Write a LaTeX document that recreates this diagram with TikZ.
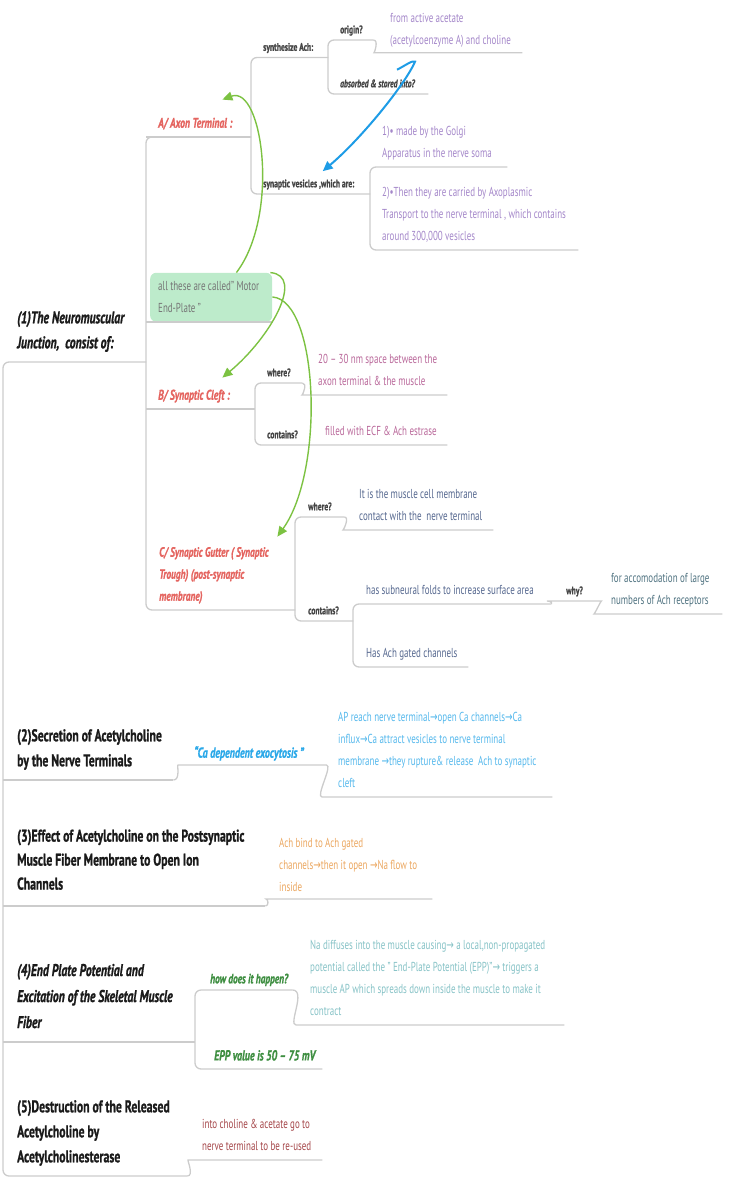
\documentclass[tikz,border=0pt]{standalone}
\usepackage{fontspec}
\setmainfont{PT Sans}[FakeStretch=0.69, BoldFont=* Bold, ItalicFont=* Italic, BoldItalicFont=* Bold Italic,
  BoldFeatures={FakeBold=1}, BoldItalicFeatures={FakeBold=1}]
\newfontfamily\symfont{DejaVu Sans}[FakeStretch=0.69]
\usetikzlibrary{arrows.meta}

\definecolor{linegray}{HTML}{CCCCCC}
\definecolor{topblack}{HTML}{1A1A1A}
\definecolor{subred}{HTML}{E4645F}
\definecolor{taggray}{HTML}{454545}
\definecolor{lavender}{HTML}{A487C9}
\definecolor{mauve}{HTML}{B9689A}
\definecolor{slate}{HTML}{56688F}
\definecolor{slateteal}{HTML}{4F7280}
\definecolor{skyblue}{HTML}{2AA8E8}
\definecolor{skyleaf}{HTML}{55B8EC}
\definecolor{amber}{HTML}{EBA760}
\definecolor{leafgreen}{HTML}{3E8E41}
\definecolor{paleteal}{HTML}{86C2C6}
\definecolor{brick}{HTML}{A5474A}
\definecolor{mint}{HTML}{BDEBCB}
\definecolor{mintext}{HTML}{767676}
\definecolor{arrowgreen}{HTML}{7CC242}
\definecolor{arrowblue}{HTML}{1E9CE6}

\newcommand\rarr{{\symfont →}}
% text block sitting on an underline of given length, with a left inset
\newcommand\ulbox[3]{\makebox[#1pt][l]{\hspace*{#2pt}\begin{tabular}[b]{@{}l@{}}#3\end{tabular}}}

\begin{document}
\begin{tikzpicture}[x=1pt,y=-1pt,
  conn/.style={draw=linegray, line width=1.3pt, rounded corners=6pt},
  mmbase/.style={anchor=south west, inner xsep=0pt},
  mmtop/.style={mmbase, inner ysep=6pt, text=topblack, font=\fontsize{17}{25}\selectfont\bfseries},
  mmsub/.style={mmbase, inner ysep=2.5pt, text=subred, font=\fontsize{14}{22}\selectfont\bfseries\itshape},
  mmtag/.style={mmbase, inner ysep=1.7pt, text=taggray, font=\fontsize{11}{16}\selectfont\bfseries},
  mmleaf/.style={mmbase, inner ysep=3pt, font=\fontsize{13}{22}\selectfont},
  garrow/.style={draw=arrowgreen, line width=1.4pt, -{Triangle[length=10pt,width=9pt]}},
  barrow/.style={draw=arrowblue, line width=2pt, -{Triangle[length=10pt,width=9pt]}}
]
\useasboundingbox (0,0) rectangle (731,1182);

% ---------- (1) Neuromuscular junction ----------
\node[mmtop, font=\fontsize{17}{25}\selectfont\bfseries\itshape] (n1) at (3,362)
  {\ulbox{143}{14}{(1)The Neuromuscular\\Junction,\ \ consist of:}};

\node[mmsub] (A) at (146,137) {\ulbox{105}{12}{A/ Axon Terminal :}};
\node[mmtag] (synth) at (251,57.5) {\ulbox{77}{12}{synthesize Ach:}};
\node[mmtag] (origin) at (328,40) {\ulbox{45}{12}{origin?}};
\node[mmtag, font=\fontsize{11}{16}\selectfont\bfseries\itshape] (absorbed) at (328,94)
  {\ulbox{100}{12}{absorbed \& stored into?}};
\node[mmleaf, inner ysep=1pt, text=lavender] (leafO) at (380,52.7)
  {\ulbox{142}{10}{from active acetate\\(acetylcoenzyme A) and choline}};
\node[mmtag] (vesic) at (251,194) {\ulbox{119}{12}{synaptic vesicles ,which are:}};
\node[mmleaf, text=lavender] (leaf1) at (370,167)
  {\ulbox{137}{12}{1)• made by the Golgi\\Apparatus in the nerve soma}};
\node[mmleaf, text=lavender] (leaf2) at (370,250)
  {\ulbox{208}{12}{2)•Then they are carried by Axoplasmic\\Transport to the nerve terminal , which contains\\around 300,000 vesicles}};

\node[mmbase, inner ysep=0pt, minimum height=49pt, fill=mint, rounded corners=6pt,
      text=mintext, font=\fontsize{13}{22}\selectfont] (GB) at (150,322)
  {\ulbox{122}{8}{all these are called” Motor\\End-Plate ”}};

\node[mmsub] (B) at (146,409) {\ulbox{109}{12}{B/ Synaptic Cleft :}};
\node[mmtag] (Bwhere) at (255,383) {\ulbox{47}{12}{where?}};
\node[mmleaf, text=mauve] (Bleaf1) at (308,395)
  {\ulbox{139}{10}{20 – 30 nm space between the\\axon terminal \& the muscle}};
\node[mmtag] (Bcont) at (255,445) {\ulbox{55}{12}{contains?}};
\node[mmleaf, text=mauve] (Bleaf2) at (310,445)
  {\ulbox{137}{15}{filled with ECF \& Ach estrase}};

\node[mmsub, font=\fontsize{13.5}{22}\selectfont\bfseries\itshape] (C) at (146,610)
  {\ulbox{149}{13}{C/ Synaptic Gutter ( Synaptic\\Trough) (post-synaptic\\membrane)}};
\node[mmtag] (Cwhere) at (295,517) {\ulbox{49}{13}{where?}};
\node[mmleaf, text=slate] (Cleaf1) at (349,530)
  {\ulbox{144}{10}{It is the muscle cell membrane\\contact with the\ \ nerve terminal}};
\node[mmtag] (Ccont) at (295,621) {\ulbox{58}{13}{contains?}};
\node[mmleaf, text=slate] (Cfold) at (353,604)
  {\ulbox{198}{13}{has subneural folds to increase surface area}};
\node[mmtag] (Cwhy) at (553,601) {\ulbox{42}{13}{why?}};
\node[mmleaf, text=slateteal] (Cleaf2) at (600,614)
  {\ulbox{122}{11}{for accomodation of large\\numbers of Ach receptors}};
\node[mmleaf, text=slate] (Cgated) at (353,667)
  {\ulbox{115}{13}{Has Ach gated channels}};

% ---------- (2) ----------
\node[mmtop] (n2) at (3,780) {\ulbox{170}{14}{(2)Secretion of Acetylcholine\\by the Nerve Terminals}};
\node[mmtag, text=skyblue, font=\fontsize{14.5}{18}\selectfont\bfseries\itshape] (s2) at (184,765)
  {\ulbox{136}{10}{“Ca dependent exocytosis ”}};
\node[mmleaf, text=skyleaf] (s2leaf) at (328,797)
  {\ulbox{224}{10}{AP reach nerve terminal\rarr open Ca channels\rarr Ca\\influx\rarr Ca attract vesicles to nerve terminal\\membrane \rarr they rupture\& release\ \ Ach to synaptic\\cleft}};

% ---------- (3) ----------
\node[mmtop, inner ysep=9pt, font=\fontsize{17}{24}\selectfont\bfseries] (n3) at (3,906)
  {\ulbox{262}{14}{(3)Effect of Acetylcholine on the Postsynaptic\\Muscle Fiber Membrane to Open Ion\\Channels}};
\node[mmleaf, inner ysep=1pt, text=amber] (s3leaf) at (272,899)
  {\ulbox{160}{7}{Ach bind to Ach gated\\channels\rarr then it open \rarr Na flow to\\inside}};

% ---------- (4) ----------
\node[mmtop, font=\fontsize{17}{26}\selectfont\bfseries\itshape] (n4) at (3,1042)
  {\ulbox{192}{14}{(4)End Plate Potential and\\Excitation of the Skeletal Muscle\\Fiber}};
\node[mmtag, text=leafgreen, font=\fontsize{13.5}{16}\selectfont\bfseries\itshape] (s4how) at (195,990)
  {\ulbox{97}{15}{how does it happen?}};
\node[mmleaf, text=paleteal] (s4leaf) at (302,1025)
  {\ulbox{262}{8}{Na diffuses into the muscle causing\rarr{} a local,non-propagated\\potential called the ” End-Plate Potential (EPP)”\rarr{} triggers a\\muscle AP which spreads down inside the muscle to make it\\contract}};
\node[mmtag, inner ysep=3pt, text=leafgreen, font=\fontsize{14.5}{18}\selectfont\bfseries\itshape] (s4epp) at (195,1069)
  {\ulbox{127}{19}{EPP value is 50 – 75 mV}};

% ---------- (5) ----------
\node[mmtop] (n5) at (3,1176)
  {\ulbox{184}{14}{(5)Destruction of the Released\\Acetylcholine by\\Acetylcholinesterase}};
\node[mmleaf, text=brick] (s5leaf) at (194,1160)
  {\ulbox{128}{8}{into choline \& acetate go to\\nerve terminal to be re-used}};

% ---------- branch lines ----------
\draw[conn] (n1.south east) -- (n1.south west) -- (n5.south west) -- (n5.south east);
\draw[conn] (n2.south west) -- (n2.south east);
\draw[conn] (n3.south west) -- (n3.south east);
\draw[conn] (n4.south west) -- (n4.south east);

\draw[conn] (A.south east) -- (A.south west) -- (C.south west) -- (C.south east);
\draw[conn] (GB.south west -| A.south west) -- (GB.south east);
\draw[conn] (B.south west) -- (B.south east);

\draw[conn] (A.south west) -- (A.south east);
\draw[conn] (synth.south east) -- (synth.south west) -- (vesic.south west) -- (vesic.south east);
\draw[conn] (origin.south east) -- (origin.south west) -- (absorbed.south west) -- (absorbed.south east);
\draw[conn] (origin.south east) to[out=0,in=180] (leafO.south west) -- (leafO.south east);
\draw[conn] (leaf1.south east) -- (leaf1.south west) -- (leaf2.south west) -- (leaf2.south east);

\draw[conn] (Bwhere.south east) -- (Bwhere.south west) -- (Bcont.south west) -- (Bcont.south east) -- (Bleaf2.south east);
\draw[conn] (Bwhere.south east) to[out=0,in=180] (Bleaf1.south west) -- (Bleaf1.south east);

\draw[conn] (Cwhere.south east) -- (Cwhere.south west) -- (Ccont.south west) -- (Ccont.south east);
\draw[conn] (Cwhere.south east) to[out=0,in=180] (Cleaf1.south west) -- (Cleaf1.south east);
\draw[conn] (Cfold.south east) -- (Cfold.south west) -- (Cgated.south west) -- (Cgated.south east);
\draw[conn] (Cfold.south east) to[out=0,in=180] (Cwhy.south west) -- (Cwhy.south east)
  to[out=0,in=180] (Cleaf2.south west) -- (Cleaf2.south east);

\draw[conn] (n2.south east) to[out=0,in=180] (s2.south west) -- (s2.south east)
  to[out=0,in=180] (s2leaf.south west) -- (s2leaf.south east);
\draw[conn] (n3.south east) to[out=0,in=180] (s3leaf.south west) -- (s3leaf.south east);
\draw[conn] (s4how.south east) -- (s4how.south west) -- (s4epp.south west) -- (s4epp.south east);
\draw[conn] (s4how.south east) to[out=0,in=180] (s4leaf.south west) -- (s4leaf.south east);
\draw[conn] (n5.south east) to[out=0,in=180] (s5leaf.south west) -- (s5leaf.south east);

% ---------- cross links ----------
\draw[garrow] ([xshift=-36pt]GB.north east) .. controls +(44,-58) and +(40,-15) .. ([shift={(-29,-10)}]A.north east);
\draw[garrow] ([shift={(-2,0)}]GB.north east) .. controls +(35,3) and +(48,-40) .. ([shift={(-33,-4)}]B.north east);
\draw[garrow] ([shift={(0,-25)}]GB.south east) .. controls +(46,3) and +(48,-67) .. ([shift={(-18,-2)}]C.north east);
\draw[barrow] ([shift={(17,17)}]leafO.south west) .. controls +(8,-4) and +(-2,-2) .. ([shift={(35,9)}]leafO.south west)
  .. controls +(-10,23) and +(38,-32) .. ([shift={(12,-3)}]vesic.north);
\end{tikzpicture}
\end{document}
